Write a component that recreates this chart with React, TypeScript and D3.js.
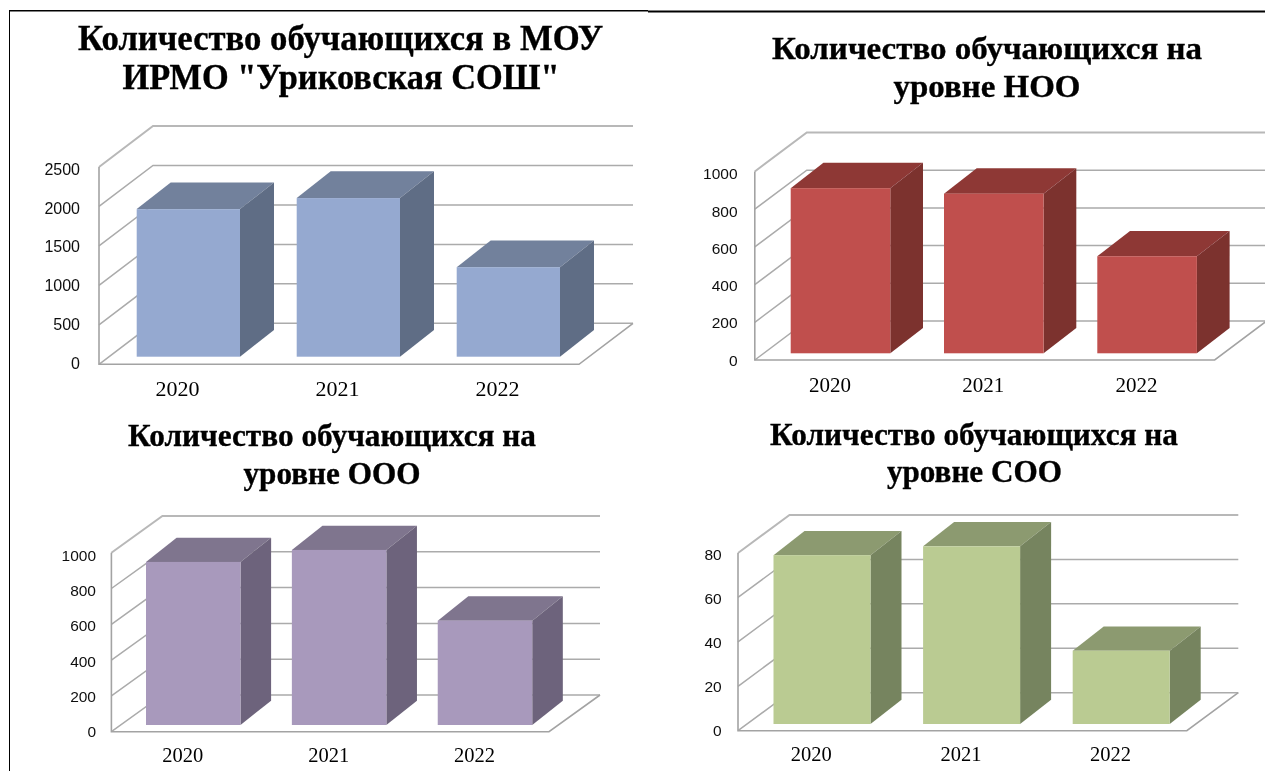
import React from "react";
import * as d3 from "d3";

const years = ["2020", "2021", "2022"];
const totalValues = [1870, 2010, 1134];
const nooValues = [876, 847, 515];
const oooValues = [911, 978, 583];
const sooValues = [76, 80, 33];
const totalTicks = [0, 500, 1000, 1500, 2000, 2500];
const levelTicks = [0, 200, 400, 600, 800, 1000];
const sooTicks = [0, 20, 40, 60, 80];

const SERIF = "'Liberation Serif', 'Times New Roman', serif";
const SANS = "'Liberation Sans', Arial, sans-serif";

const charts = [
  {
    values: totalValues, ticks: totalTicks,
    title: [
      { t: "Количество обучающихся в МОУ", cx: 340.6, y: 50, w: 525, fs: 35 },
      { t: 'ИРМО "Уриковская СОШ"', cx: 341, y: 89, w: 437, fs: 35 },
    ],
    x0: 99, x1: 579, floorY: 364.3, topY: 167, depthX: 54, depthY: 41,
    barOff: 37.7, barW: 103.3, barBase: 356.7, barDX: 34, barDY: 26.7,
    labelX: 80, labelBottom: 363, labelTop: 169, tickFs: 16, xLabelY: 389, xFs: 22,
    front: "#95a9d0", top: "#72819c", side: "#5f6d85",
  },
  {
    values: nooValues, ticks: levelTicks,
    title: [
      { t: "Количество обучающихся на", cx: 987, y: 59, w: 430, fs: 32 },
      { t: "уровне НОО", cx: 987, y: 97, w: 187, fs: 32 },
    ],
    x0: 754.8, x1: 1214.7, floorY: 360, topY: 171.5, depthX: 52, depthY: 39,
    barOff: 35.9, barW: 99.6, barBase: 353.3, barDX: 32.7, barDY: 25.3,
    labelX: 737.6, labelBottom: 360, labelTop: 173.7, tickFs: 15.5, xLabelY: 385, xFs: 21,
    front: "#c0504d", top: "#8e3836", side: "#7c302e",
  },
  {
    values: oooValues, ticks: levelTicks,
    title: [
      { t: "Количество обучающихся на", cx: 332, y: 446, w: 408, fs: 31 },
      { t: "уровне ООО", cx: 332, y: 484, w: 177, fs: 31 },
    ],
    x0: 111.4, x1: 549, floorY: 731.7, topY: 552.7, depthX: 51, depthY: 36.7,
    barOff: 34.6, barW: 94.5, barBase: 725, barDX: 30.6, barDY: 24.3,
    labelX: 96, labelBottom: 731.7, labelTop: 555.3, tickFs: 15.5, xLabelY: 755, xFs: 20.5,
    front: "#a899bc", top: "#7f758e", side: "#6d647b",
  },
  {
    values: sooValues, ticks: sooTicks,
    title: [
      { t: "Количество обучающихся на", cx: 974, y: 445, w: 408, fs: 31 },
      { t: "уровне СОО", cx: 974.4, y: 482, w: 175, fs: 31 },
    ],
    x0: 738, x1: 1186.8, floorY: 730.7, topY: 553, depthX: 51.5, depthY: 38,
    barOff: 35.5, barW: 97, barBase: 724, barDX: 31, barDY: 24.3,
    labelX: 721.7, labelBottom: 730, labelTop: 554, tickFs: 15.5, xLabelY: 754, xFs: 20.5,
    front: "#bacb92", top: "#8c9a70", side: "#76845e",
  },
];

const GRID = "#a3a3a3";
const WALL = "#ababab";

function Chart3D({ c }: { c: (typeof charts)[number] }) {
  const maxTick = d3.max(c.ticks) as number;
  const wallY = d3.scaleLinear().domain([0, maxTick]).range([c.floorY, c.topY]);
  const labelY = d3.scaleLinear().domain([0, maxTick]).range([c.labelBottom, c.labelTop]);
  const barY = d3.scaleLinear().domain([0, maxTick]).range([c.barBase, c.barBase - (c.floorY - c.topY)]);
  const band = d3.scaleBand<string>().domain(years).range([c.x0, c.x1]);
  const poly = d3.line();
  return (
    <g>
      {c.title.map((l) => (
        <text key={l.t} x={l.cx} y={l.y} textAnchor="middle" fontFamily={SERIF} fontWeight="bold"
          fontSize={l.fs} fill="#000" stroke="#000" strokeWidth={0.35}
          textLength={l.w} lengthAdjust="spacingAndGlyphs">{l.t}</text>
      ))}
      {c.ticks.map((t) => (
        <path key={"w" + t} fill="none" stroke={t === maxTick ? "#b8b8b8" : WALL} strokeWidth={t === maxTick ? 2 : 1.5}
          d={poly([[c.x0, wallY(t)], [c.x0 + c.depthX, wallY(t) - c.depthY], [c.x1 + c.depthX, wallY(t) - c.depthY]]) as string} />
      ))}
      <path fill="none" stroke={GRID} strokeWidth={1.6}
        d={poly([[c.x0, c.topY], [c.x0, c.floorY], [c.x1, c.floorY], [c.x1 + c.depthX, c.floorY - c.depthY]]) as string} />
      {years.map((yr, i) => {
        const x = (band(yr) as number) + c.barOff;
        const top = barY(c.values[i]);
        const xr = x + c.barW;
        return (
          <g key={yr}>
            <path fill={c.top} d={poly([[x, top], [x + c.barDX, top - c.barDY], [xr + c.barDX, top - c.barDY], [xr, top]]) + "Z"} />
            <path fill={c.side} d={poly([[xr, top], [xr + c.barDX, top - c.barDY], [xr + c.barDX, c.barBase - c.barDY], [xr, c.barBase]]) + "Z"} />
            <rect x={x} y={top} width={c.barW} height={c.barBase - top} fill={c.front} />
          </g>
        );
      })}
      {c.ticks.map((t) => (
        <text key={"l" + t} x={c.labelX} y={labelY(t)} dy="0.36em" textAnchor="end"
          fontFamily={SANS} fontSize={c.tickFs} fill="#111">{t}</text>
      ))}
      {years.map((yr) => (
        <text key={"x" + yr} x={(band(yr) as number) + band.bandwidth() / 2 - 1.5} y={c.xLabelY} dy="0.34em"
          textAnchor="middle" fontFamily={SERIF} fontSize={c.xFs} fill="#000">{yr}</text>
      ))}
    </g>
  );
}

export default function App() {
  return (
    <svg width={1265} height={771} viewBox="0 0 1265 771"
      style={{ position: "fixed", left: 0, top: 0, background: "#fff", display: "block" }}>
      <defs>
        <filter id="soft" x="0" y="0" width="100%" height="100%">
          <feGaussianBlur stdDeviation="0.4" />
        </filter>
      </defs>
      <rect width={1265} height={771} fill="#fff" />
      <g filter="url(#soft)">
        <path d="M9 771V10.5H648" fill="none" stroke="#000" strokeWidth={2} />
        <path d="M648 11.5H1265" fill="none" stroke="#000" strokeWidth={2} />
        {charts.map((c, i) => <Chart3D key={i} c={c} />)}
      </g>
    </svg>
  );
}
